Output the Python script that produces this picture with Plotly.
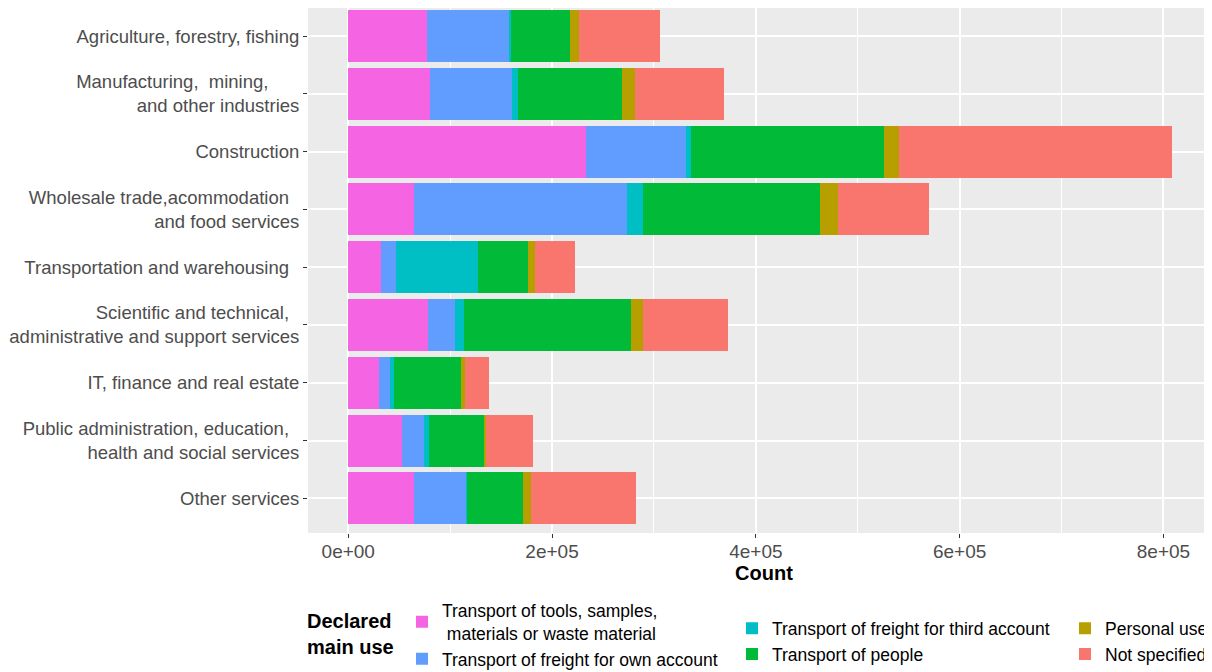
import plotly.graph_objects as go

NBSP = "\u00a0"

categories = [
    "Agriculture, forestry, fishing",
    "Manufacturing,  mining," + NBSP * 6 + "<br>and other industries",
    "Construction",
    "Wholesale trade,acommodation" + NBSP * 2 + "<br>and food services",
    "Transportation and warehousing" + NBSP * 2,
    "Scientific and technical," + NBSP * 2 + "<br>administrative and support services",
    "IT, finance and real estate",
    "Public administration, education," + NBSP * 2 + "<br>health and social services",
    "Other services",
]

tools_samples = [77500, 79800, 233000, 64400, 32400, 78500, 30400, 52300, 64400]
freight_own = [81200, 80800, 98000, 209000, 14400, 26200, 10500, 22000, 51700]
freight_third = [1000, 5900, 5200, 15700, 80100, 8500, 3600, 4900, 300]
people = [57900, 102400, 189300, 174000, 49100, 164500, 66100, 54900, 55000]
personal = [8500, 12800, 14500, 17300, 7500, 11800, 3900, 700, 7800]
not_specified = [79800, 87300, 268100, 89600, 38900, 83100, 23200, 46800, 103100]

series_names = [
    "Transport of tools, samples,<br>" + NBSP + "materials or waste material",
    "Transport of freight for own account",
    "Transport of freight for third account",
    "Transport of people",
    "Personal use",
    "Not specified",
]
series_values = [tools_samples, freight_own, freight_third, people, personal, not_specified]
series_colors = ["#F564E3", "#619CFF", "#00BFC4", "#00BA38", "#B79F00", "#F8766D"]
series_legend = ["legend", "legend", "legend2", "legend2", "legend3", "legend3"]

x_tickvals = [0, 200000, 400000, 600000, 800000]
x_ticktext = ["0e+00", "2e+05", "4e+05", "6e+05", "8e+05"]

fig = go.Figure()
for name, vals, col, lg in zip(series_names, series_values, series_colors, series_legend):
    fig.add_trace(go.Bar(
        y=categories, x=vals, name=name, orientation="h",
        marker=dict(color=col, line=dict(width=0)),
        width=0.9, legend=lg,
    ))

W, H = 1212, 672
OFF = 8  # page body margin offset
L, R, T, B = 300, 0, 0, 147.4
pw = W - L - R
ph = H - T - B


def px_x(sx):
    return (sx - OFF - L) / pw


def px_y(sy):
    return (H - B - (sy - OFF)) / ph


legend_common = dict(
    orientation="v", font=dict(family="Liberation Sans, Arial", size=17.5, color="#000000"),
    bgcolor="rgba(0,0,0,0)", borderwidth=0, xanchor="left", yanchor="top",
    xref="paper", yref="paper", traceorder="normal", tracegroupgap=0,
)

fig.update_layout(
    width=W, height=H,
    margin=dict(l=L, r=R, t=T, b=B, autoexpand=False),
    paper_bgcolor="white", plot_bgcolor="#EBEBEB",
    barmode="stack", bargap=0.1,
    font=dict(family="Liberation Sans, Arial", color="#4D4D4D"),
    showlegend=True,
    legend=dict(legend_common, x=px_x(402), y=px_y(592)),
    legend2=dict(legend_common, x=px_x(732), y=px_y(610)),
    legend3=dict(legend_common, x=px_x(1065), y=px_y(610)),
    xaxis=dict(
        range=[-39500, 855500],
        tickvals=x_tickvals, ticktext=x_ticktext,
        showgrid=True, gridcolor="white", gridwidth=1.6,
        minor=dict(dtick=100000, tick0=0, showgrid=True, gridcolor="white", gridwidth=0.7),
        zeroline=False, showline=False,
        ticks="outside", ticklen=4, tickcolor="#333333", tickwidth=1,
        tickfont=dict(size=19, color="#4D4D4D"),
        ticklabelstandoff=-3,
        title=dict(text="<b>Count</b>", font=dict(size=20, color="#000000"), standoff=4),
    ),
    yaxis=dict(
        range=[8.6, -0.485], type="category",
        showgrid=True, gridcolor="white", gridwidth=1.6,
        zeroline=False, showline=False,
        ticks="outside", ticklen=4, tickcolor="#333333", tickwidth=1,
        tickfont=dict(size=18.5, color="#4D4D4D"),
    ),
    annotations=[dict(
        text="<b>Declared<br>main use</b>", xref="paper", yref="paper",
        x=px_x(305), y=px_y(634), xanchor="left", yanchor="middle", align="left",
        showarrow=False, font=dict(size=20, color="#000000"),
    )],
)

fig.write_html("out.html")
